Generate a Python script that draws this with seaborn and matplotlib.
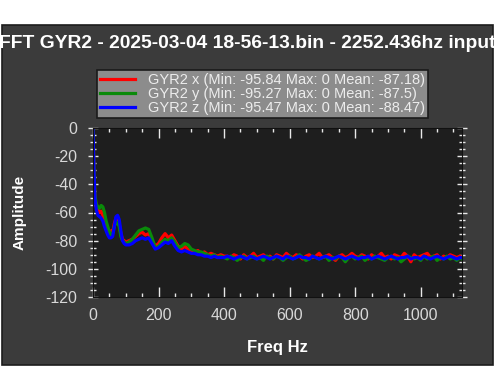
import pandas as pd
import matplotlib
matplotlib.use('Agg')
import matplotlib.pyplot as plt
import seaborn as sns
from matplotlib.patches import Rectangle
from matplotlib.ticker import MultipleLocator

# FFT bins (Hz)
freq = [0, 3, 6, 10, 15, 20, 25, 30, 35, 40,
        45, 50, 55, 60, 65, 70, 75, 80, 85, 90,
        95, 100, 110, 120, 130, 140, 150, 160, 170, 180,
        190, 200, 210, 220, 230, 240, 250, 260, 270, 280,
        290, 300, 310, 320, 330, 340, 350, 360, 370, 380,
        390, 400, 410, 420, 430, 440, 450, 460, 470, 480,
        490, 500, 510, 520, 530, 540, 550, 560, 570, 580,
        590, 600, 610, 620, 630, 640, 650, 660, 670, 680,
        690, 700, 710, 720, 730, 740, 750, 760, 770, 780,
        790, 800, 810, 820, 830, 840, 850, 860, 870, 880,
        890, 900, 910, 920, 930, 940, 950, 960, 970, 980,
        990, 1000, 1010, 1020, 1030, 1040, 1050, 1060, 1070, 1080,
        1090, 1100, 1110, 1120, 1126]

gyr_x = [0, -32, -50, -56, -58, -60, -59, -62, -66, -70,
         -72, -74, -73, -74, -68, -64, -66, -68, -75, -79,
         -80, -81, -80, -79, -77, -75, -74, -76, -75, -80,
         -84, -82, -78, -75, -78, -76, -80, -84, -86, -84,
         -86, -87, -88, -87, -89, -88, -90, -89, -90, -91,
         -90, -91, -91, -92, -90, -91, -93, -90, -92, -91,
         -89, -92, -91, -90, -92, -91, -93, -90, -91, -92,
         -89, -91, -92, -90, -91, -93, -91, -90, -92, -91,
         -89, -92, -91, -90, -92, -94, -91, -90, -92, -91,
         -89, -91, -92, -90, -91, -93, -90, -92, -91, -89,
         -92, -91, -93, -90, -91, -92, -89, -91, -95, -90,
         -92, -91, -90, -89, -92, -91, -90, -93, -91, -92,
         -90, -91, -92, -91, -92]

gyr_y = [0, -30, -48, -54, -56, -57, -55, -56, -60, -66,
         -70, -74, -76, -75, -70, -67, -67, -70, -77, -80,
         -81, -82, -81, -79, -76, -73, -72, -71, -72, -78,
         -85, -84, -81, -79, -80, -78, -81, -85, -84, -82,
         -83, -86, -87, -88, -88, -89, -90, -91, -90, -92,
         -91, -92, -93, -91, -92, -94, -92, -91, -93, -92,
         -91, -93, -92, -94, -91, -92, -93, -91, -92, -94,
         -92, -91, -93, -92, -90, -92, -94, -93, -91, -92,
         -93, -92, -91, -94, -92, -93, -91, -92, -95, -92,
         -91, -93, -92, -91, -94, -92, -93, -91, -92, -93,
         -94, -92, -91, -93, -92, -95, -93, -91, -92, -93,
         -92, -94, -91, -93, -92, -91, -94, -92, -93, -91,
         -93, -92, -94, -92, -93]

gyr_z = [0, -30, -50, -58, -62, -63, -64, -66, -70, -73,
         -76, -78, -78, -77, -70, -63, -62, -65, -73, -80,
         -82, -83, -83, -82, -80, -79, -78, -79, -78, -82,
         -86, -85, -83, -81, -82, -80, -84, -87, -88, -87,
         -88, -89, -89, -90, -90, -91, -91, -92, -91, -92,
         -92, -92, -91, -92, -93, -92, -91, -92, -93, -91,
         -92, -93, -92, -91, -92, -93, -92, -91, -92, -93,
         -91, -92, -93, -92, -91, -92, -92, -93, -91, -92,
         -93, -92, -91, -92, -93, -92, -91, -92, -93, -92,
         -91, -92, -93, -92, -92, -91, -93, -92, -91, -92,
         -93, -92, -91, -92, -93, -92, -92, -91, -93, -92,
         -92, -93, -91, -92, -93, -92, -91, -92, -93, -92,
         -91, -92, -93, -92, -92]

labels = ['GYR2 x (Min: -95.84 Max: 0 Mean: -87.18)',
          'GYR2 y (Min: -95.27 Max: 0 Mean: -87.5)',
          'GYR2 z (Min: -95.47 Max: 0 Mean: -88.47)']
colors = ['#ff0000', '#0a8a0a', '#0000ff']
title = 'FFT GYR2 - 2025-03-04 18-56-13.bin - 2252.436hz input'

frames = []
for lab, vals in zip(labels, [gyr_x, gyr_y, gyr_z]):
    frames.append(pd.DataFrame({'Freq': freq, 'Amp': vals, 'axis': lab}))
df = pd.concat(frames, ignore_index=True)

plt.rcParams['font.family'] = ['Liberation Sans', 'DejaVu Sans']
plt.rcParams['axes.unicode_minus'] = False

fig = plt.figure(figsize=(4.95, 3.9), dpi=100, facecolor='white')
fig.patches.append(Rectangle((0.004, 25 / 390), 0.992, 340 / 390, transform=fig.transFigure,
                             facecolor='#3b3b3b', edgecolor='#1c1c1c', linewidth=1.2, zorder=-5))
ax = fig.add_axes([93 / 495, 93 / 390, 369 / 495, 169 / 390])
ax.set_facecolor('#1e1e1e')

sns.lineplot(data=df, x='Freq', y='Amp', hue='axis', palette=colors, estimator=None,
             linewidth=2.3, ax=ax)

ax.set_xlim(0, 1126)
ax.set_ylim(-120, 0)
ax.xaxis.set_major_locator(MultipleLocator(200))
ax.xaxis.set_minor_locator(MultipleLocator(50))
ax.yaxis.set_major_locator(MultipleLocator(20))
ax.yaxis.set_minor_locator(MultipleLocator(5))
ax.tick_params(which='both', colors='#e8e8e8', labelcolor='#d8d8d8', labelsize=11.5,
               top=True, right=True)
ax.tick_params(axis='x', which='major', direction='in', length=7, width=1, pad=8)
ax.tick_params(axis='x', which='minor', direction='in', length=3, width=1)
ax.tick_params(axis='y', which='major', direction='inout', length=7, width=1, pad=8)
ax.tick_params(axis='y', which='minor', direction='inout', length=4, width=1)
for s in ax.spines.values():
    s.set_color('#111111')

ax.set_xlabel('Freq Hz', color='white', fontsize=12, fontweight='bold', labelpad=12)
ax.set_ylabel('Amplitude', color='white', fontsize=11, fontweight='bold', labelpad=13)

leg = ax.legend(loc='center', bbox_to_anchor=(0.531, 0.759), bbox_transform=fig.transFigure,
                fontsize=10.5, frameon=True, fancybox=False, framealpha=1,
                facecolor='#8c8c8c', edgecolor='#1a1a1a', labelcolor='#ececec',
                handlelength=2.4, labelspacing=0.0, borderpad=0.2, handletextpad=0.9)
leg.get_frame().set_linewidth(1.2)

fig.text(0.5, 1 - 44 / 390, title, ha='center', va='center', color='white',
         fontsize=13.9, fontweight='bold')

fig.savefig('out.png', dpi=100, facecolor=fig.get_facecolor())
